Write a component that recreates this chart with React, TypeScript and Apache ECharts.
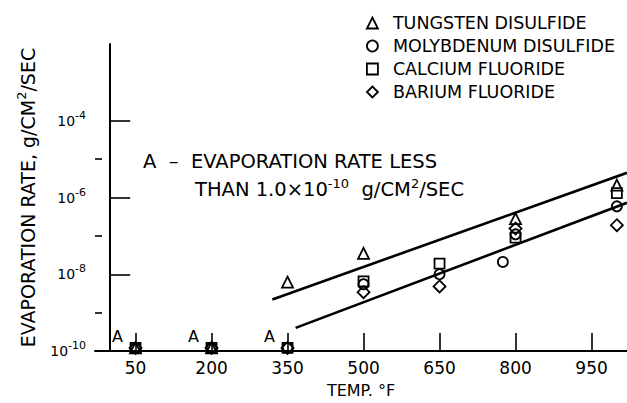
import React, { useEffect, useRef } from 'react';
import * as echarts from 'echarts';

const FONT = 'DejaVu Sans';

// Axis ticks
const temperatureTicks = [50, 200, 350, 500, 650, 800, 950];
const rateMajorTicks = [1e-10, 1e-8, 1e-6, 1e-4];
const rateMinorTicks = [1e-9, 1e-7, 1e-5];

// Measured evaporation rates, g/cm^2/sec vs temperature, deg F
const tungstenDisulfide = [
  [50, 1.2e-10], [200, 1.2e-10], [350, 6.2e-9], [500, 3.5e-8], [800, 2.8e-7], [1000, 2.1e-6],
];
const molybdenumDisulfide = [
  [50, 1.2e-10], [200, 1.2e-10], [350, 1.2e-10], [500, 5.5e-9], [650, 1.0e-8], [775, 2.1e-8],
  [800, 1.1e-7], [1000, 5.9e-7],
];
const calciumFluoride = [
  [50, 1.2e-10], [200, 1.2e-10], [350, 1.2e-10], [500, 6.5e-9], [650, 1.9e-8], [800, 9e-8],
  [1000, 1.3e-6],
];
const bariumFluoride = [
  [50, 1.2e-10], [200, 1.2e-10], [350, 1.2e-10], [500, 3.4e-9], [650, 4.8e-9], [800, 1.55e-7],
  [1000, 1.9e-7],
];

// Points below the detection limit, marked "A"
const belowLimit = [[50, 1.2e-10], [200, 1.2e-10], [350, 1.2e-10]];

// Straight-line fits through the data bands
const upperFit = [[320, 2.2e-9], [1020, 4.4e-6]];
const lowerFit = [[366, 4.0e-10], [1020, 7.3e-7]];

const seriesNames = ['TUNGSTEN DISULFIDE', 'MOLYBDENUM DISULFIDE', 'CALCIUM FLUORIDE', 'BARIUM FLUORIDE'];
const seriesSymbols = ['triangle', 'circle', 'rect', 'diamond'];
const seriesSymbolSizes = [11, 10, 10, 12];
const seriesData = [tungstenDisulfide, molybdenumDisulfide, calciumFluoride, bariumFluoride];

const hollow = { color: 'rgba(255,255,255,0)', borderColor: '#000', borderWidth: 1.8, opacity: 1 };

export default function App() {
  const ref = useRef<HTMLDivElement>(null);

  useEffect(() => {
    if (!ref.current) return;
    const chart = echarts.init(ref.current, null, { renderer: 'svg' });

    const supRich = (size: number, raise: number) => ({
      s: { fontSize: size, fontFamily: FONT, color: '#000', padding: [0, 0, raise, 0] },
    });

    chart.setOption({
      animation: false,
      backgroundColor: '#fff',
      grid: { left: 95, right: 0, top: 44, bottom: 51 },
      legend: {
        orient: 'vertical',
        left: 361,
        top: 9,
        itemWidth: 11,
        itemHeight: 11,
        itemGap: 5,
        symbolKeepAspect: true,
        selectedMode: false,
        data: seriesNames.map((name, i) => ({ name, icon: seriesSymbols[i] })),
        itemStyle: { color: 'rgba(255,255,255,0)', borderColor: '#000', borderWidth: 1.8 },
        textStyle: {
          fontFamily: FONT,
          fontSize: 17.5,
          color: '#000',
          lineHeight: 17,
          padding: [0, 0, 0, 10],
        },
      },
      xAxis: {
        type: 'value',
        min: -30,
        max: 1020,
        name: 'TEMP. °F',
        nameLocation: 'middle',
        nameGap: 31,
        nameTextStyle: { fontFamily: FONT, fontSize: 16, color: '#000' },
        axisLine: { show: true, lineStyle: { color: '#000', width: 2 } },
        axisTick: {
          show: true,
          inside: true,
          length: 18,
          customValues: temperatureTicks,
          lineStyle: { color: '#000', width: 1.6 },
        },
        axisLabel: {
          customValues: temperatureTicks,
          margin: 8,
          fontFamily: FONT,
          fontSize: 17,
          color: '#000',
        },
        splitLine: { show: false },
      },
      yAxis: [
        {
          type: 'log',
          logBase: 10,
          min: 1e-10,
          max: 1e-2,
          name: 'EVAPORATION RATE, g/CM{s|2}/SEC',
          nameLocation: 'middle',
          nameGap: 55,
          nameTextStyle: {
            fontFamily: FONT,
            fontSize: 19,
            color: '#000',
            rich: supRich(13, 12),
          },
          axisLine: { show: true, lineStyle: { color: '#000', width: 2 } },
          axisTick: {
            show: true,
            inside: true,
            length: 20,
            customValues: rateMajorTicks,
            lineStyle: { color: '#000', width: 1.6 },
          },
          axisLabel: {
            customValues: rateMajorTicks,
            margin: 9,
            fontFamily: FONT,
            fontSize: 14,
            color: '#000',
            formatter: (v: number) => `{b|10}{s|${Math.round(Math.log10(v))}}`,
            rich: {
              b: { fontSize: 14, fontFamily: FONT, color: '#000' },
              s: { fontSize: 11, fontFamily: FONT, color: '#000', padding: [0, 0, 11, 0] },
            },
          },
          splitLine: { show: false },
        },
        {
          type: 'log',
          logBase: 10,
          min: 1e-10,
          max: 1e-2,
          position: 'left',
          axisLine: { show: false },
          axisTick: {
            show: true,
            inside: true,
            length: 7,
            customValues: rateMinorTicks,
            lineStyle: { color: '#000', width: 1.6 },
          },
          axisLabel: { show: false },
          splitLine: { show: false },
        },
      ],
      graphic: [
        {
          type: 'text',
          x: 143,
          y: 161,
          style: {
            text: 'A  –  EVAPORATION RATE LESS',
            fontFamily: FONT,
            fontSize: 19.5,
            fill: '#000',
            verticalAlign: 'middle',
          },
        },
        {
          type: 'text',
          x: 195,
          y: 189,
          style: {
            text: 'THAN 1.0×10{s|-10}  g/CM{s|2}/SEC',
            fontFamily: FONT,
            fontSize: 19.5,
            fill: '#000',
            verticalAlign: 'middle',
            rich: supRich(13, 12),
          },
        },
      ],
      series: [
        ...seriesNames.map((name, i) => ({
          name,
          type: 'scatter',
          symbol: seriesSymbols[i],
          symbolSize: seriesSymbolSizes[i],
          itemStyle: hollow,
          data: seriesData[i],
        })),
        {
          name: 'below limit',
          type: 'scatter',
          symbolSize: 0,
          silent: true,
          itemStyle: { opacity: 1 },
          data: belowLimit,
          label: {
            show: true,
            formatter: 'A',
            offset: [-18, -11],
            fontFamily: FONT,
            fontSize: 16,
            color: '#000',
            opacity: 1,
          },
        },
        {
          name: 'upper fit',
          type: 'line',
          symbol: 'none',
          silent: true,
          lineStyle: { color: '#000', width: 2.6 },
          data: upperFit,
        },
        {
          name: 'lower fit',
          type: 'line',
          symbol: 'none',
          silent: true,
          lineStyle: { color: '#000', width: 2.6 },
          data: lowerFit,
        },
      ],
    });

    return () => chart.dispose();
  }, []);

  return (
    <div
      ref={ref}
      style={{ position: 'fixed', left: 0, top: 0, width: 627, height: 403, background: '#fff' }}
    />
  );
}
